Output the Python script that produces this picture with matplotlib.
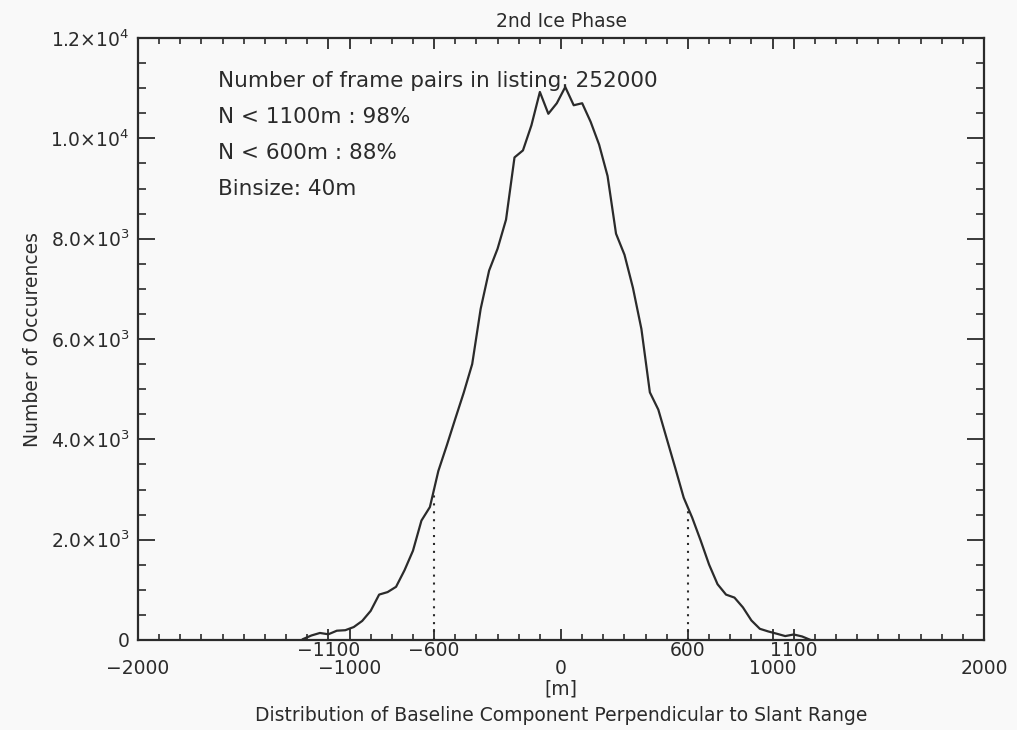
import numpy as np
import matplotlib
matplotlib.use("Agg")
import matplotlib.pyplot as plt
from matplotlib.ticker import MultipleLocator, FixedLocator, FuncFormatter

plt.rcParams['font.family'] = ['DejaVu Sans']
plt.rcParams['mathtext.fontset'] = 'dejavusans'

# histogram of perpendicular baseline, 40 m bins (bin centres)
bin_centres = np.arange(-1220, 1181, 40)
counts = [
    18, 90, 140, 114, 185, 195, 258, 380, 580, 905,
    955, 1060, 1390, 1780, 2380, 2650, 3370, 3880, 4410, 4930,
    5500, 6600, 7365, 7800, 8380, 9620, 9760, 10260, 10925, 10490,
    10700, 11024, 10660, 10700, 10330, 9876, 9250, 8100, 7680, 7020,
    6200, 4937, 4592, 4010, 3430, 2837, 2440, 1985, 1503, 1112,
    905, 845, 650, 390, 223, 170, 125, 78, 110, 70, 0,
]

title = '2nd Ice Phase'
n_pairs = 252000
pct_1100 = 98
pct_600 = 88
binsize = 40

major_xticks = [-2000, -1000, 0, 1000, 2000]
limit_xticks = [-1100, -600, 600, 1100]
dotted_at = [-600, 600]

ink = '#2b2b2b'


def int_label(v):
    return ('%d' % v).replace('-', '\u2212')


fig = plt.figure(figsize=(10.17, 7.30), dpi=100, facecolor='#f9f9f9')
ax = fig.add_axes([0.1357, 0.1233, 0.8319, 0.8246])
ax.set_facecolor('#f9f9f9')

ax.plot(bin_centres, counts, color=ink, lw=1.6)

# dotted markers at +-600 m, up to the curve
for xd in dotted_at:
    yd = np.interp(xd, bin_centres, counts)
    ax.plot([xd, xd], [0, yd], color=ink, lw=1.5, linestyle=(0, (1, 2.8)))

ax.set_xlim(-2000, 2000)
ax.set_ylim(0, 12000)

for s in ax.spines.values():
    s.set_linewidth(1.6)
    s.set_color(ink)

ax.xaxis.set_major_locator(FixedLocator(major_xticks + limit_xticks))
ax.xaxis.set_major_formatter(FuncFormatter(
    lambda v, p: int_label(v) if int(round(v)) in major_xticks else ''))
ax.xaxis.set_minor_locator(MultipleLocator(100))
ax.yaxis.set_major_locator(MultipleLocator(2000))
ax.yaxis.set_minor_locator(MultipleLocator(500))


def sci_fmt(v, pos):
    if v <= 0:
        return '0'
    e = int(np.floor(np.log10(v)))
    return r'$%.1f{\times}10^{%d}$' % (v / 10 ** e, e)


ax.yaxis.set_major_formatter(FuncFormatter(sci_fmt))

ax.tick_params(axis='x', which='major', direction='in', length=8, width=1.3,
               top=True, bottom=True, labelsize=13.5, pad=13.5, colors=ink)
ax.tick_params(axis='x', which='minor', direction='in', length=4, width=1.2,
               top=True, bottom=True, colors=ink)
ax.tick_params(axis='y', which='major', direction='in', length=12, width=1.3,
               left=True, right=True, labelsize=13.5, pad=6, colors=ink)
ax.tick_params(axis='y', which='minor', direction='in', length=6, width=1.2,
               left=True, right=True, colors=ink)

for xv in limit_xticks:
    ax.annotate(int_label(xv), xy=(xv, 0), xycoords=('data', 'axes fraction'),
                xytext=(0, -1), textcoords='offset points',
                ha='center', va='top', fontsize=13.5, color=ink)

ax.set_title(title, fontsize=13.5, color=ink, pad=8)
ax.set_ylabel('Number of Occurences', fontsize=13.5, color=ink, labelpad=6)
ax.set_xlabel('[m]\nDistribution of Baseline Component Perpendicular to Slant Range',
              fontsize=13.5, color=ink, labelpad=1, linespacing=1.5)

info = [
    'Number of frame pairs in listing: %d' % n_pairs,
    'N < 1100m : %d%%' % pct_1100,
    'N < 600m : %d%%' % pct_600,
    'Binsize: %dm' % binsize,
]
for i, line in enumerate(info):
    ax.text(0.094, 0.945 - i * 0.0598, line, transform=ax.transAxes,
            fontsize=15.5, color=ink, ha='left', va='top')

fig.savefig('out.png', dpi=100, facecolor=fig.get_facecolor())
